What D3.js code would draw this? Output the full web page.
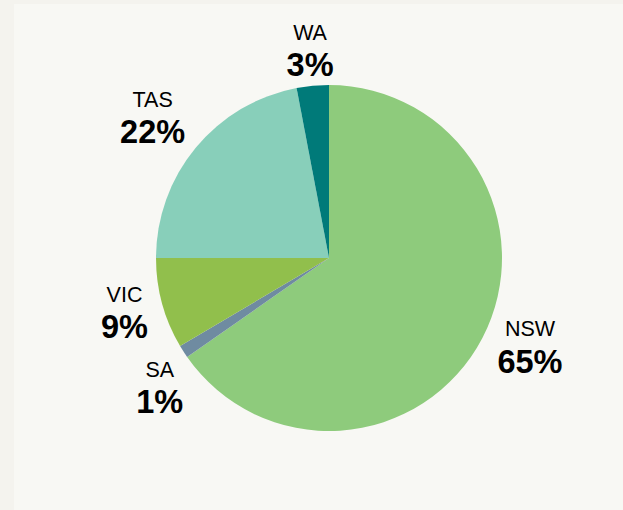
<!DOCTYPE html>
<html>
<head>
<meta charset="utf-8">
<script src="https://cdn.jsdelivr.net/npm/d3@7/dist/d3.min.js"></script>
<style>
  html, body { margin: 0; padding: 0; background: #f4f3ee; }
  svg { display: block; }
</style>
</head>
<body>
<svg id="chart" width="623" height="510"></svg>
<script>
// Data
const states = ["NSW", "SA", "VIC", "TAS", "WA"];
const shares = [65.3, 1.2, 8.5, 22.0, 3.0];
const colors = ["#8ecb7c", "#6f8ba1", "#91bf4c", "#88cfba", "#007a79"];
// Small label nudges (dx, dy) relative to outer-arc centroid
const labelNudgeX = [13, 9, 0, -13, 1];
const labelNudgeY = [-9, 15, -1, -5, 4];

const W = 623, H = 510;
const cx = 329, cy = 258, R = 173, labelR = 212;

const svg = d3.select("#chart");
svg.append("rect").attr("x", 14).attr("y", 4).attr("width", W - 14).attr("height", H - 4)
  .attr("fill", "#f8f8f4");

const data = states.map((s, i) => ({ name: s, value: shares[i], color: colors[i], i }));

const pie = d3.pie().value(d => d.value).sort(null);
const arc = d3.arc().innerRadius(0).outerRadius(R);
const labelArc = d3.arc().innerRadius(labelR).outerRadius(labelR);

const g = svg.append("g").attr("transform", `translate(${cx},${cy})`);
const arcs = pie(data);

g.selectAll("path").data(arcs).join("path")
  .attr("d", arc)
  .attr("fill", d => d.data.color);

const lab = g.selectAll("g.lab").data(arcs).join("g")
  .attr("class", "lab")
  .attr("transform", d => {
    const [x, y] = labelArc.centroid(d);
    return `translate(${x + labelNudgeX[d.data.i]},${y + labelNudgeY[d.data.i]})`;
  });

lab.append("text")
  .attr("text-anchor", "middle")
  .attr("y", -11)
  .style("font-family", "'Liberation Sans', Arial, sans-serif")
  .style("font-size", "21.5px")
  .attr("fill", "#000")
  .text(d => d.data.name);

lab.append("text")
  .attr("text-anchor", "middle")
  .attr("y", 25.5)
  .style("font-family", "'Liberation Sans', Arial, sans-serif")
  .style("font-size", "32.5px")
  .style("font-weight", "bold")
  .attr("fill", "#000")
  .text(d => Math.round(d.data.value) + "%");
</script>
</body>
</html>
